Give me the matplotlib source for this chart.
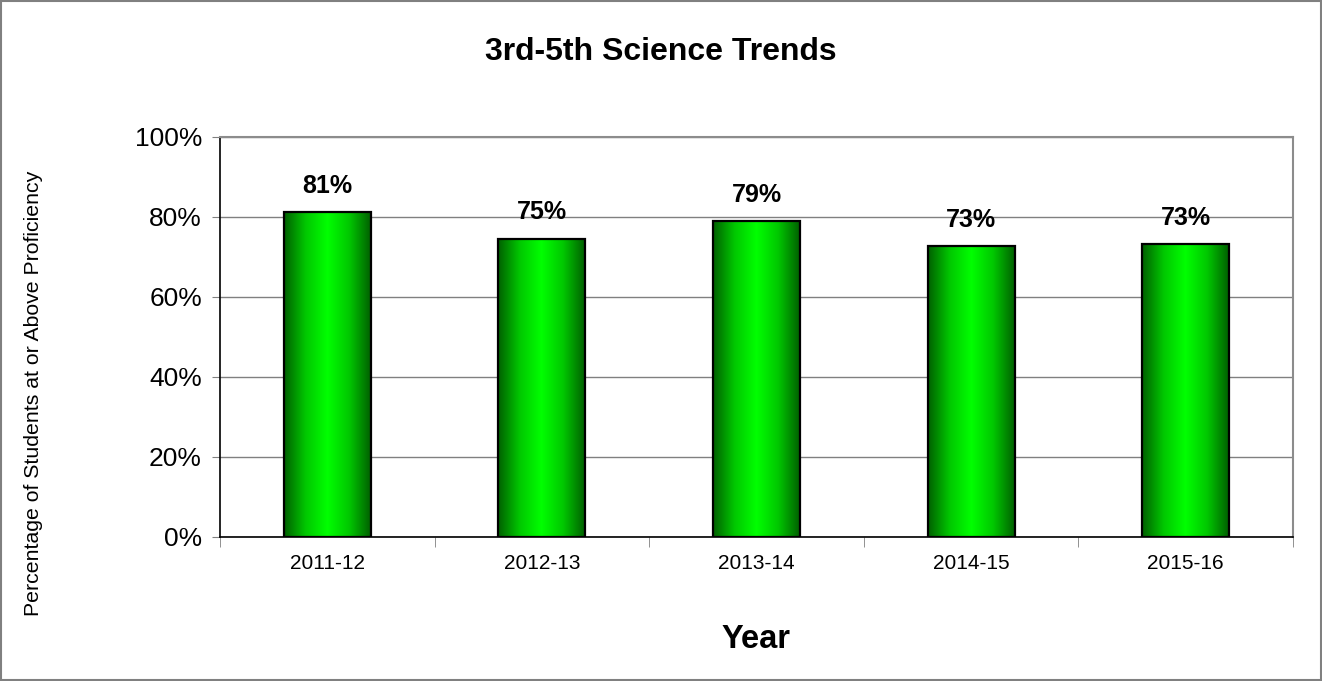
import matplotlib
matplotlib.use("Agg")
import matplotlib.pyplot as plt
import numpy as np
from matplotlib.colors import LinearSegmentedColormap
from matplotlib.patches import Rectangle

years = ["2011-12", "2012-13", "2013-14", "2014-15", "2015-16"]
values = [81.2, 74.6, 78.9, 72.7, 73.2]
labels = ["81%", "75%", "79%", "73%", "73%"]

plt.rcParams["font.family"] = ["Liberation Sans", "DejaVu Sans"]

W, H = 1322, 681
fig = plt.figure(figsize=(W / 100, H / 100), dpi=100)
ax = fig.add_axes([220 / W, 1 - 537 / H, (1293 - 220) / W, (537 - 137) / H])

green = LinearSegmentedColormap.from_list(
    "g", ["#006000", "#00c800", "#00ff00", "#00c800", "#006000"])
grad = np.linspace(0, 1, 256).reshape(1, -1)

x = np.arange(len(years))
width = 0.405
bars = ax.bar(x, values, width, color="none", edgecolor="black", linewidth=1.6, zorder=3)
for b, lab in zip(bars, labels):
    x0, h = b.get_x(), b.get_height()
    im = ax.imshow(grad, cmap=green, aspect="auto",
                   extent=[x0, x0 + width, 0, h], zorder=2)
    im.set_clip_path(Rectangle((x0, 0), width, h, transform=ax.transData))
    ax.text(x0 + width / 2, h + 6.6, lab, ha="center", va="center",
            fontsize=18, fontweight="bold", zorder=4)

ax.set_xlim(-0.5, len(years) - 0.5)
ax.set_ylim(0, 100)
ax.set_yticks(np.arange(0, 101, 20))
ax.set_yticklabels([f"{v}%" for v in range(0, 101, 20)], fontsize=19)
ax.yaxis.grid(True, color="#808080", linewidth=1, zorder=0)
ax.set_axisbelow(True)

ax.set_xticks(x)
ax.set_xticklabels(years, fontsize=15)
ax.tick_params(axis="x", length=0, pad=12)
ax.set_xticks(np.arange(-0.5, len(years)), minor=True)
ax.tick_params(axis="x", which="minor", length=7, direction="out", color="#808080")
ax.tick_params(axis="y", length=6, direction="out", color="#808080", pad=7)

for s in ["top", "right"]:
    ax.spines[s].set_color("#8c8c8c")
    ax.spines[s].set_linewidth(1.5)
ax.spines["left"].set_color("#000000")
ax.spines["bottom"].set_color("#000000")
ax.spines["left"].set_linewidth(1.2)
ax.spines["bottom"].set_linewidth(1.2)

fig.text(0.5, 1 - 52 / H, "3rd-5th Science Trends", ha="center", va="center",
         fontsize=23, fontweight="bold")
fig.text((220 + 1293) / 2 / W, 1 - 640 / H, "Year", ha="center", va="center",
         fontsize=23.5, fontweight="bold")
fig.text(34 / W, 1 - 393 / H, "Percentage of Students at or Above Proficiency",
         ha="center", va="center", rotation=90, fontsize=15.3)

fig.patches.append(Rectangle((0.001, 0.001), 0.998, 0.997, transform=fig.transFigure,
                             fill=False, edgecolor="#808080", linewidth=1.5))

fig.savefig("out.png", dpi=100)
